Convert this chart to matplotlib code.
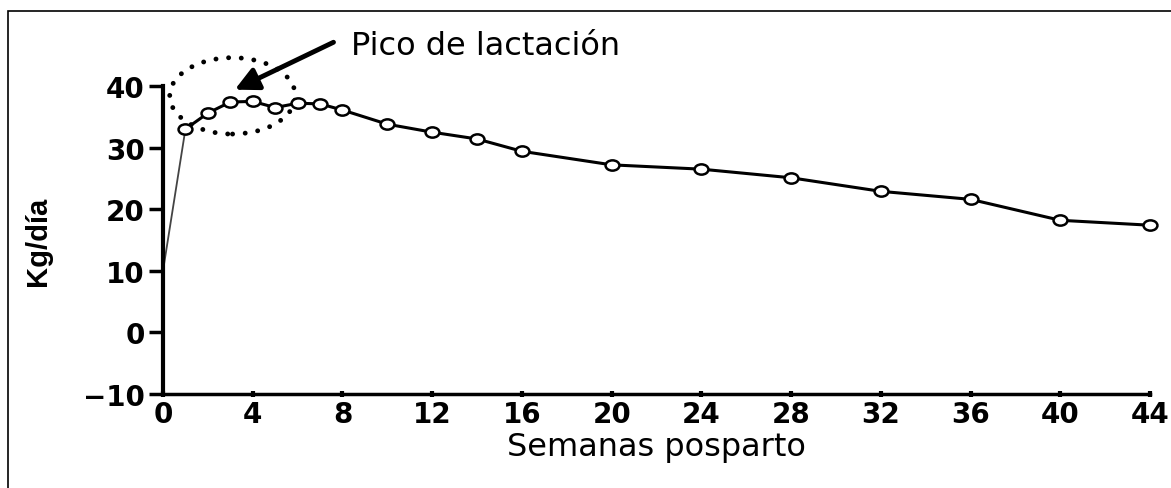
import matplotlib.pyplot as plt
from matplotlib.patches import Ellipse, Rectangle
from matplotlib.path import Path

# semanas posparto y produccion de leche (kg/dia)
weeks = [0, 1, 2, 3, 4, 5, 6, 7, 8, 10, 12, 14, 16, 20, 24, 28, 32, 36, 40, 44]
milk = [10, 33, 35.6, 37.4, 37.5, 36.5, 37.2, 37.1, 36.1, 33.8, 32.5, 31.4,
        29.4, 27.2, 26.5, 25.1, 22.9, 21.6, 18.2, 17.4]
xticks = [0, 4, 8, 12, 16, 20, 24, 28, 32, 36, 40, 44]
yticks = [-10, 0, 10, 20, 30, 40]
ylabels = ['\u221210', '0', '10', '20', '30', '40']

W, H = 1171, 489
fig = plt.figure(figsize=(W / 100, H / 100), dpi=100)
ax = fig.add_axes([163 / W, (H - 395) / H, (1150 - 163) / W, (395 - 87) / H])

# frame of the scanned figure
fig.patches.append(Rectangle((8 / W, -0.1), 1.2, 1.1 - 12 / H, transform=fig.transFigure,
                             fill=False, edgecolor='black', linewidth=1.2))

# slightly flattened open circles like the scan
circ = Path.unit_circle()
oval = Path(circ.vertices * [1.35, 1.0], circ.codes)

# first rise (thin line without marker)
ax.plot(weeks[:2], milk[:2], color='#444444', linewidth=1.3, clip_on=False)
ax.plot(weeks[1:], milk[1:], color='black', linewidth=2.2, marker=oval, markersize=10,
        markerfacecolor='white', markeredgecolor='black', markeredgewidth=1.8, clip_on=False)

ax.set_xlim(0, 44)
ax.set_ylim(-10, 40)
ax.spines['top'].set_visible(False)
ax.spines['right'].set_visible(False)
ax.spines['left'].set_linewidth(3)
ax.spines['bottom'].set_linewidth(2.5)

ax.set_xticks(xticks)
ax.set_yticks(yticks)
ax.set_yticklabels(ylabels)
ax.tick_params(axis='y', direction='out', length=10, width=2.5, pad=3, labelsize=20)
ax.tick_params(axis='x', direction='inout', length=5, width=3, pad=2, labelsize=20)
for lab in ax.get_xticklabels() + ax.get_yticklabels():
    lab.set_fontfamily('DejaVu Sans')
    lab.set_fontweight('bold')

ax.set_xlabel('Semanas posparto', fontsize=23, fontfamily='DejaVu Sans', labelpad=2)
ax.set_ylabel('Kg/día', fontsize=21, fontfamily='Liberation Sans', fontweight='bold')
ax.yaxis.set_label_coords(-0.112, 0.5)

# pico de lactacion: dotted ring + arrow
ell = Ellipse((3.1, 38.4), 5.6, 12.4, fill=False, edgecolor='black', linewidth=3.5,
              linestyle=(0, (0.01, 2.6)), capstyle='round', clip_on=False)
ax.add_patch(ell)
ax.annotate('', xy=(3.2, 39.4), xytext=(7.6, 47.1), annotation_clip=False,
            arrowprops=dict(arrowstyle='-|>,head_length=1.4,head_width=0.7',
                            color='black', linewidth=3.5, shrinkA=0, shrinkB=0))
ax.text(8.4, 46.6, 'Pico de lactación', fontsize=23, fontfamily='DejaVu Sans',
        va='center', ha='left', clip_on=False)

fig.savefig('out.png', dpi=100)
